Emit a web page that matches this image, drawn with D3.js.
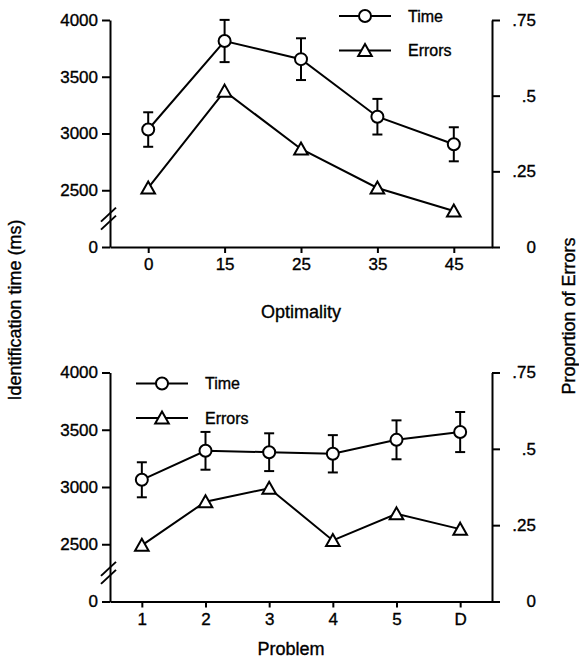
<!DOCTYPE html>
<html>
<head>
<meta charset="utf-8">
<script src="https://cdn.jsdelivr.net/npm/d3@7"></script>
<style>
  html, body { margin: 0; padding: 0; background: #fff; }
  svg { display: block; }
  text { font-family: "Liberation Sans", Arial, Helvetica, sans-serif; fill: #000; stroke: #000; stroke-width: 0.35px; }
</style>
</head>
<body>
<svg id="chart" width="579" height="662"></svg>
<script>
// ---- data ----
const optimalityCategories = ["0", "15", "25", "35", "45"];
const optimalityTime = [3035, 3815, 3655, 3148, 2905];
const optimalityTimeErr = [152, 186, 184, 157, 150];
const optimalityErrors = [0.195, 0.515, 0.324, 0.195, 0.119];

const problemCategories = ["1", "2", "3", "4", "5", "D"];
const problemTime = [3063, 3316, 3304, 3290, 3412, 3480];
const problemTimeErr = [153, 165, 165, 163, 170, 175];
const problemErrors = [0.184, 0.327, 0.371, 0.200, 0.287, 0.237];

const timeTickValues = [0, 2500, 3000, 3500, 4000];
const timeTickLabels = ["0", "2500", "3000", "3500", "4000"];
const errorTickValues = [0, 0.25, 0.5, 0.75];
const errorTickLabels = ["0", ".25", ".5", ".75"];

const legendLabels = ["Time", "Errors"];

// ---- layout ----
const svg = d3.select("#chart");
const xLeft = 110, xRight = 492;

function panel(cfg) {
  const g = svg.append("g");
  const x = d3.scalePoint().domain(cfg.categories).range([xLeft, xRight]).padding(0.5);
  // broken axis: 0 at baseline, 2500..4000 above the break
  const yT = d3.scaleLinear().domain([0, 2500, 4000]).range([cfg.bottom, cfg.bottom - (cfg.bottom - cfg.top) * 0.25, cfg.top]);
  const yE = d3.scaleLinear().domain([0, 0.75]).range([cfg.bottom, cfg.top]);

  const style = sel => {
    sel.selectAll("path.domain").attr("stroke", "#000").attr("stroke-width", 2);
    sel.selectAll(".tick line").attr("stroke", "#000").attr("stroke-width", 2);
    sel.selectAll(".tick text").attr("font-size", 17).attr("font-family", "Liberation Sans, Arial, sans-serif").attr("fill", "#000");
  };

  const leftAxis = d3.axisLeft(yT).tickValues(timeTickValues)
    .tickFormat((d, i) => timeTickLabels[i]).tickSize(8).tickSizeOuter(0).tickPadding(4);
  g.append("g").attr("transform", `translate(${xLeft},0)`).call(leftAxis).call(style);

  const rightAxis = d3.axisRight(yE).tickValues(errorTickValues)
    .tickFormat((d, i) => errorTickLabels[i]).tickSize(8).tickSizeOuter(0).tickPadding(10);
  const ra = g.append("g").attr("transform", `translate(${xRight},0)`).call(rightAxis).call(style);
  ra.selectAll(".tick text").attr("text-anchor", "end").attr("x", 44);

  const bottomAxis = d3.axisBottom(x).tickSize(6).tickSizeOuter(0).tickPadding(5);
  g.append("g").attr("transform", `translate(0,${cfg.bottom})`).call(bottomAxis).call(style);

  // axis break marks
  const by = yT(1250);
  [-4, 4].forEach(off => {
    g.append("line")
      .attr("x1", xLeft - 9).attr("y1", by + off + 7)
      .attr("x2", xLeft + 6).attr("y2", by + off - 7)
      .attr("stroke", "#000").attr("stroke-width", 2);
  });

  // axis title
  g.append("text").attr("x", cfg.titleX).attr("y", cfg.titleY)
    .attr("text-anchor", "middle").attr("font-size", 18).text(cfg.title);

  // errors line
  const lineE = d3.line().x((d, i) => x(cfg.categories[i])).y(d => yE(d));
  g.append("path").datum(cfg.errors).attr("d", lineE)
    .attr("fill", "none").attr("stroke", "#000").attr("stroke-width", 2);

  // time line
  const lineT = d3.line().x((d, i) => x(cfg.categories[i])).y(d => yT(d));
  g.append("path").datum(cfg.time).attr("d", lineT)
    .attr("fill", "none").attr("stroke", "#000").attr("stroke-width", 2);

  // error bars
  cfg.time.forEach((t, i) => {
    const cx = x(cfg.categories[i]);
    const y1 = yT(t - cfg.err[i]), y2 = yT(t + cfg.err[i]);
    g.append("line").attr("x1", cx).attr("x2", cx).attr("y1", y1).attr("y2", y2)
      .attr("stroke", "#000").attr("stroke-width", 2);
    [y1, y2].forEach(yy => g.append("line").attr("x1", cx - 5).attr("x2", cx + 5)
      .attr("y1", yy).attr("y2", yy).attr("stroke", "#000").attr("stroke-width", 2));
  });

  const tri = "M0,-6.5L6.8,5.5L-6.8,5.5Z";
  // triangles
  cfg.errors.forEach((e, i) => {
    g.append("path").attr("d", tri)
      .attr("transform", `translate(${x(cfg.categories[i])},${yE(e)})`)
      .attr("fill", "#fff").attr("stroke", "#000").attr("stroke-width", 2);
  });
  // circles
  cfg.time.forEach((t, i) => {
    g.append("circle").attr("cx", x(cfg.categories[i])).attr("cy", yT(t)).attr("r", 6)
      .attr("fill", "#fff").attr("stroke", "#000").attr("stroke-width", 2);
  });

  // legend
  const lx = cfg.legendX, ly = cfg.legendY;
  [0, 1].forEach(k => {
    const yy = ly + k * 34.5;
    g.append("line").attr("x1", lx - 26).attr("x2", lx + 26).attr("y1", yy).attr("y2", yy)
      .attr("stroke", "#000").attr("stroke-width", 2);
    if (k === 0) {
      g.append("circle").attr("cx", lx).attr("cy", yy).attr("r", 6)
        .attr("fill", "#fff").attr("stroke", "#000").attr("stroke-width", 2);
    } else {
      g.append("path").attr("d", tri).attr("transform", `translate(${lx},${yy})`)
        .attr("fill", "#fff").attr("stroke", "#000").attr("stroke-width", 2);
    }
    g.append("text").attr("x", lx + 43).attr("y", yy).attr("dy", "0.35em")
      .attr("font-size", 16).text(legendLabels[k]);
  });
}

panel({
  categories: optimalityCategories, time: optimalityTime, err: optimalityTimeErr, errors: optimalityErrors,
  top: 20, bottom: 247, title: "Optimality", titleX: 301, titleY: 318,
  legendX: 365, legendY: 16
});
panel({
  categories: problemCategories, time: problemTime, err: problemTimeErr, errors: problemErrors,
  top: 372.5, bottom: 601.5, title: "Problem", titleX: 291, titleY: 655,
  legendX: 162, legendY: 383.5
});

// shared y-axis titles
svg.append("text").attr("transform", "translate(21,310) rotate(-90)")
  .attr("text-anchor", "middle").attr("font-size", 18).text("Identification time (ms)");
svg.append("text").attr("transform", "translate(575,316) rotate(-90)")
  .attr("text-anchor", "middle").attr("font-size", 18).text("Proportion of Errors");
</script>
</body>
</html>
